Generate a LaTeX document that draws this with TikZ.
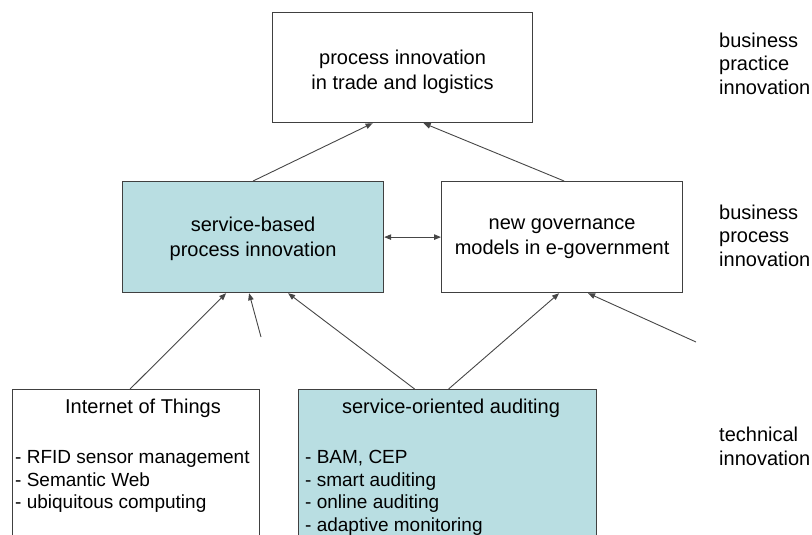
\documentclass[tikz,border=0pt]{standalone}
\usepackage{fontspec}
\setmainfont{Liberation Sans}
\usetikzlibrary{arrows.meta}
\definecolor{boxblue}{RGB}{185,222,226}
\definecolor{edgegray}{RGB}{64,64,64}
\definecolor{linegray}{RGB}{70,70,70}
\begin{document}
\begin{tikzpicture}[x=1pt,y=-1pt,
  box/.style={draw=edgegray, line width=1.2pt, inner sep=0pt, anchor=north west},
  conn/.style={draw=linegray, line width=0.9pt, -{Triangle[length=7pt,width=5.5pt]}},
  dconn/.style={draw=linegray, line width=0.9pt, {Triangle[length=7pt,width=5.5pt]}-{Triangle[length=7pt,width=5.5pt]}},
  title/.style={font=\fontsize{20}{25}\selectfont, inner sep=0pt, align=center},
  lbl/.style={font=\fontsize{20}{23.5}\selectfont, align=left, anchor=north west, inner sep=0pt},
  lst/.style={font=\fontsize{19}{22.5}\selectfont, align=left, anchor=north west, inner sep=0pt}]
\useasboundingbox (0,0) rectangle (812,535);
\clip (0,0) rectangle (812,535);

% boxes
\node[box, minimum width=260pt, minimum height=110pt] (top) at (272,12) {};
\node[box, fill=boxblue, minimum width=261pt, minimum height=111pt] (ml) at (122,181) {};
\node[box, minimum width=241pt, minimum height=111pt] (mr) at (441,181) {};
\node[box, minimum width=247pt, minimum height=170pt] (bl) at (12,389) {};
\node[box, fill=boxblue, minimum width=298pt, minimum height=170pt] (bc) at (298,389) {};

% box texts
\node[title] (topt) at ([yshift=-4pt]top.center) {process innovation\\in trade and logistics};
\node[title] (mlt) at ([yshift=-2pt]ml.center) {service-based\\process innovation};
\node[title] (mrt) at ([yshift=-2pt]mr.center) {new governance\\models in e-government};
\node[title] (blt) at (143,408) {Internet of Things};
\node[lst] (bll) at (15,450.5) {- RFID sensor management\\- Semantic Web\\- ubiquitous computing};
\node[title] (bct) at (451,408) {service-oriented auditing};
\node[lst] (bcl) at (305,450.5) {- BAM, CEP\\- smart auditing\\- online auditing\\- adaptive monitoring};

% level labels
\node[lbl] (l1) at (719,32.5) {business\\practice\\innovation};
\node[lbl] (l2) at (719,204.5) {business\\process\\innovation};
\node[lbl] (l3) at (719,427) {technical\\innovation};

% free ends
\coordinate (d1) at (261,337);
\coordinate (d2) at (696,342);

% connectors
\draw[conn] (ml.north) -- ([xshift=-30pt]top.south);
\draw[conn] ([xshift=2pt]mr.north) -- ([xshift=21pt]top.south);
\draw[dconn] (ml.east) -- (mr.west);
\draw[conn] ([xshift=-6pt]bl.north) -- ([xshift=-27pt]ml.south);
\draw[conn] (d1) -- ([xshift=-4pt]ml.south);
\draw[conn] ([xshift=-33pt]bc.north) -- ([xshift=35pt]ml.south);
\draw[conn] ([xshift=1pt]bc.north) -- ([xshift=-3pt]mr.south);
\draw[conn] (d2) -- ([xshift=26pt]mr.south);
\end{tikzpicture}
\end{document}
